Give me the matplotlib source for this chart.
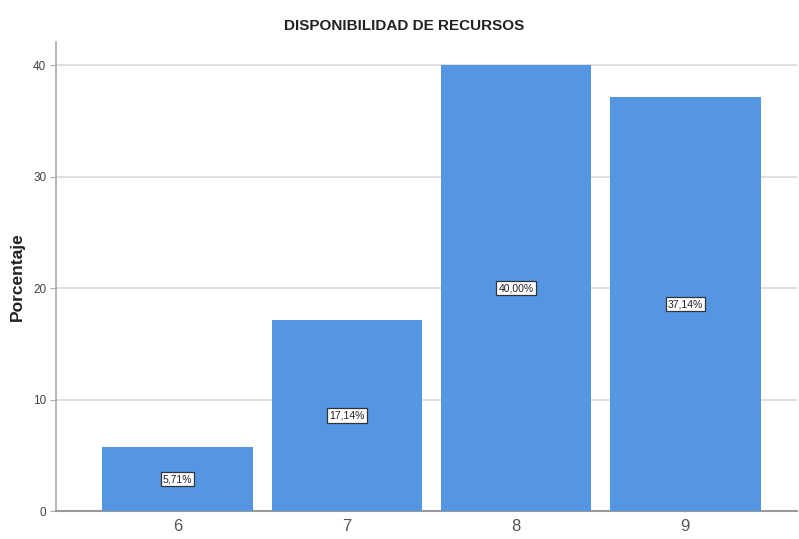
import matplotlib
matplotlib.use("Agg")
import matplotlib.pyplot as plt

categories = ["6", "7", "8", "9"]
values = [5.71, 17.14, 40.00, 37.14]
labels = ["5,71%", "17,14%", "40,00%", "37,14%"]
yticks = [0, 10, 20, 30, 40]

plt.rcParams['font.family'] = ['Liberation Sans', 'DejaVu Sans']

fig = plt.figure(figsize=(7.99, 5.39), dpi=100)
W, H = 799, 539
ax = fig.add_axes([56 / W, 28 / H, (797 - 56) / W, (511 - 42) / H])

xpos = [6, 7, 8, 9]
ax.bar(xpos, values, width=0.89, color='#5596E2', zorder=3)
ax.set_xlim(5.282, 9.659)
ax.set_ylim(0, 42.1)

ax.set_yticks(yticks)
ax.set_yticklabels([str(t) for t in yticks], fontsize=8.5, color='#444444')
ax.set_xticks(xpos)
ax.set_xticklabels(categories, fontsize=12, color='#555555')
ax.tick_params(axis='x', length=0, pad=6)
ax.tick_params(axis='y', length=4, color='#aaaaaa', pad=3)

for t in yticks[1:]:
    ax.axhline(t, color='#d9d9d9', lw=1.2, zorder=1)

for side in ['top', 'right']:
    ax.spines[side].set_visible(False)
ax.spines['left'].set_color('#aaaaaa')
ax.spines['left'].set_linewidth(1.2)
ax.spines['bottom'].set_color('#999999')
ax.spines['bottom'].set_linewidth(1.5)

for x, v, lab in zip(xpos, values, labels):
    ax.text(x, v / 2, lab, ha='center', va='center', fontsize=7.5,
            color='#222222', zorder=4,
            bbox=dict(boxstyle='square,pad=0.2', fc='white', ec='#333333', lw=0.9))

fig.text(404 / W, 1 - 26 / H, "DISPONIBILIDAD DE RECURSOS", ha='center', va='center',
         fontsize=11, fontweight='bold', color='#222222')
fig.text(17 / W, 1 - 277 / H, "Porcentaje", ha='center', va='center', rotation=90,
         fontsize=12.5, fontweight='bold', color='#222222')

fig.savefig("out.png", dpi=100)
